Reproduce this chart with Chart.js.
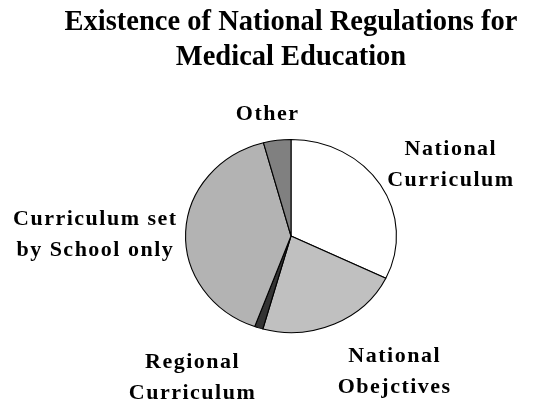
<!DOCTYPE html>
<html>
<head>
<meta charset="utf-8">
<script src="https://cdn.jsdelivr.net/npm/chart.js@4/dist/chart.umd.min.js"></script>
<style>
  html, body { margin: 0; padding: 0; background: #fff; }
  #wrap { width: 556px; height: 403px; }
</style>
</head>
<body>
<div id="wrap"><canvas id="chartPie"></canvas></div>
<script>
/* ---- data ---- */
const TITLE = ["Existence of National Regulations for", "Medical Education"];
const CATEGORIES = ["National Curriculum", "National Obejctives", "Regional Curriculum", "Curriculum set by School only", "Other"];
const LABEL_LINES = [["National", "Curriculum"], ["National", "Obejctives"], ["Regional", "Curriculum"], ["Curriculum set", "by School only"], ["Other"]];
const SHARES = [32.2, 22.1, 1.3, 40.2, 4.2];

const FILLS = ["#ffffff", "#c0c0c0", "#333333", "#b3b3b3", "#808080"];
const SERIF = "'Liberation Serif', 'Times New Roman', serif";
const SX = 106 / 97, SY = 1;   // pie is drawn slightly stretched, as in the original
const GAP_X = 8, GAP_Y = 16, SHIFT_Y = 5, LH = 31;

// stretch the pie horizontally around its centre
const stretch = {
  id: "stretch",
  beforeDatasetsDraw(chart) {
    const a = chart.getDatasetMeta(0).data[0];
    const ctx = chart.ctx;
    ctx.save();
    ctx.translate(a.x, a.y);
    ctx.scale(SX, SY);
    ctx.translate(-a.x, -a.y);
  },
  afterDatasetsDraw(chart) { chart.ctx.restore(); },
};

// outside labels, placed off each slice's mid angle
const outsideLabels = {
  id: "outsideLabels",
  afterDraw(chart) {
    const ctx = chart.ctx;
    ctx.save();
    ctx.font = "bold 22px " + SERIF;
    ctx.letterSpacing = "1.5px";
    ctx.fillStyle = "#000";
    ctx.textAlign = "center";
    ctx.textBaseline = "middle";
    chart.getDatasetMeta(0).data.forEach((arc, i) => {
      const p = arc.getProps(["x", "y", "startAngle", "endAngle", "outerRadius"], true);
      const mid = (p.startAngle + p.endAngle) / 2;
      const dx = Math.cos(mid), dy = Math.sin(mid);
      const lines = LABEL_LINES[i];
      const w = Math.max(...lines.map((t) => ctx.measureText(t).width));
      const h = lines.length * LH;
      const ax = p.x + (p.outerRadius * SX + GAP_X) * dx;
      const ay = p.y + (p.outerRadius * SY + GAP_Y) * dy + SHIFT_Y;
      const hx = Math.abs(dx) < 0.2 ? dx * 2 : Math.sign(dx);
      const cx = ax + hx * w / 2;
      const cy = ay + dy * h / 2;
      lines.forEach((t, k) => ctx.fillText(t, cx, cy - h / 2 + LH / 2 + k * LH));
    });
    ctx.restore();
  },
};

new Chart(document.getElementById("chartPie").getContext("2d"), {
  type: "pie",
  data: {
    labels: CATEGORIES,
    datasets: [{
      data: SHARES,
      backgroundColor: FILLS,
      borderColor: "#000",
      borderWidth: 1,
    }],
  },
  options: {
    responsive: true, maintainAspectRatio: false, animation: false,
    layout: { padding: { left: 26, right: 0, top: 0, bottom: 70 } },
    plugins: {
      legend: { display: false },
      tooltip: { enabled: false },
      title: {
        display: true, text: TITLE, color: "#000",
        font: { family: SERIF, size: 28.5, weight: "bold", lineHeight: 1.2 },
        padding: { top: 6, bottom: 64.6 },
      },
    },
  },
  plugins: [stretch, outsideLabels],
});
</script>
</body>
</html>
